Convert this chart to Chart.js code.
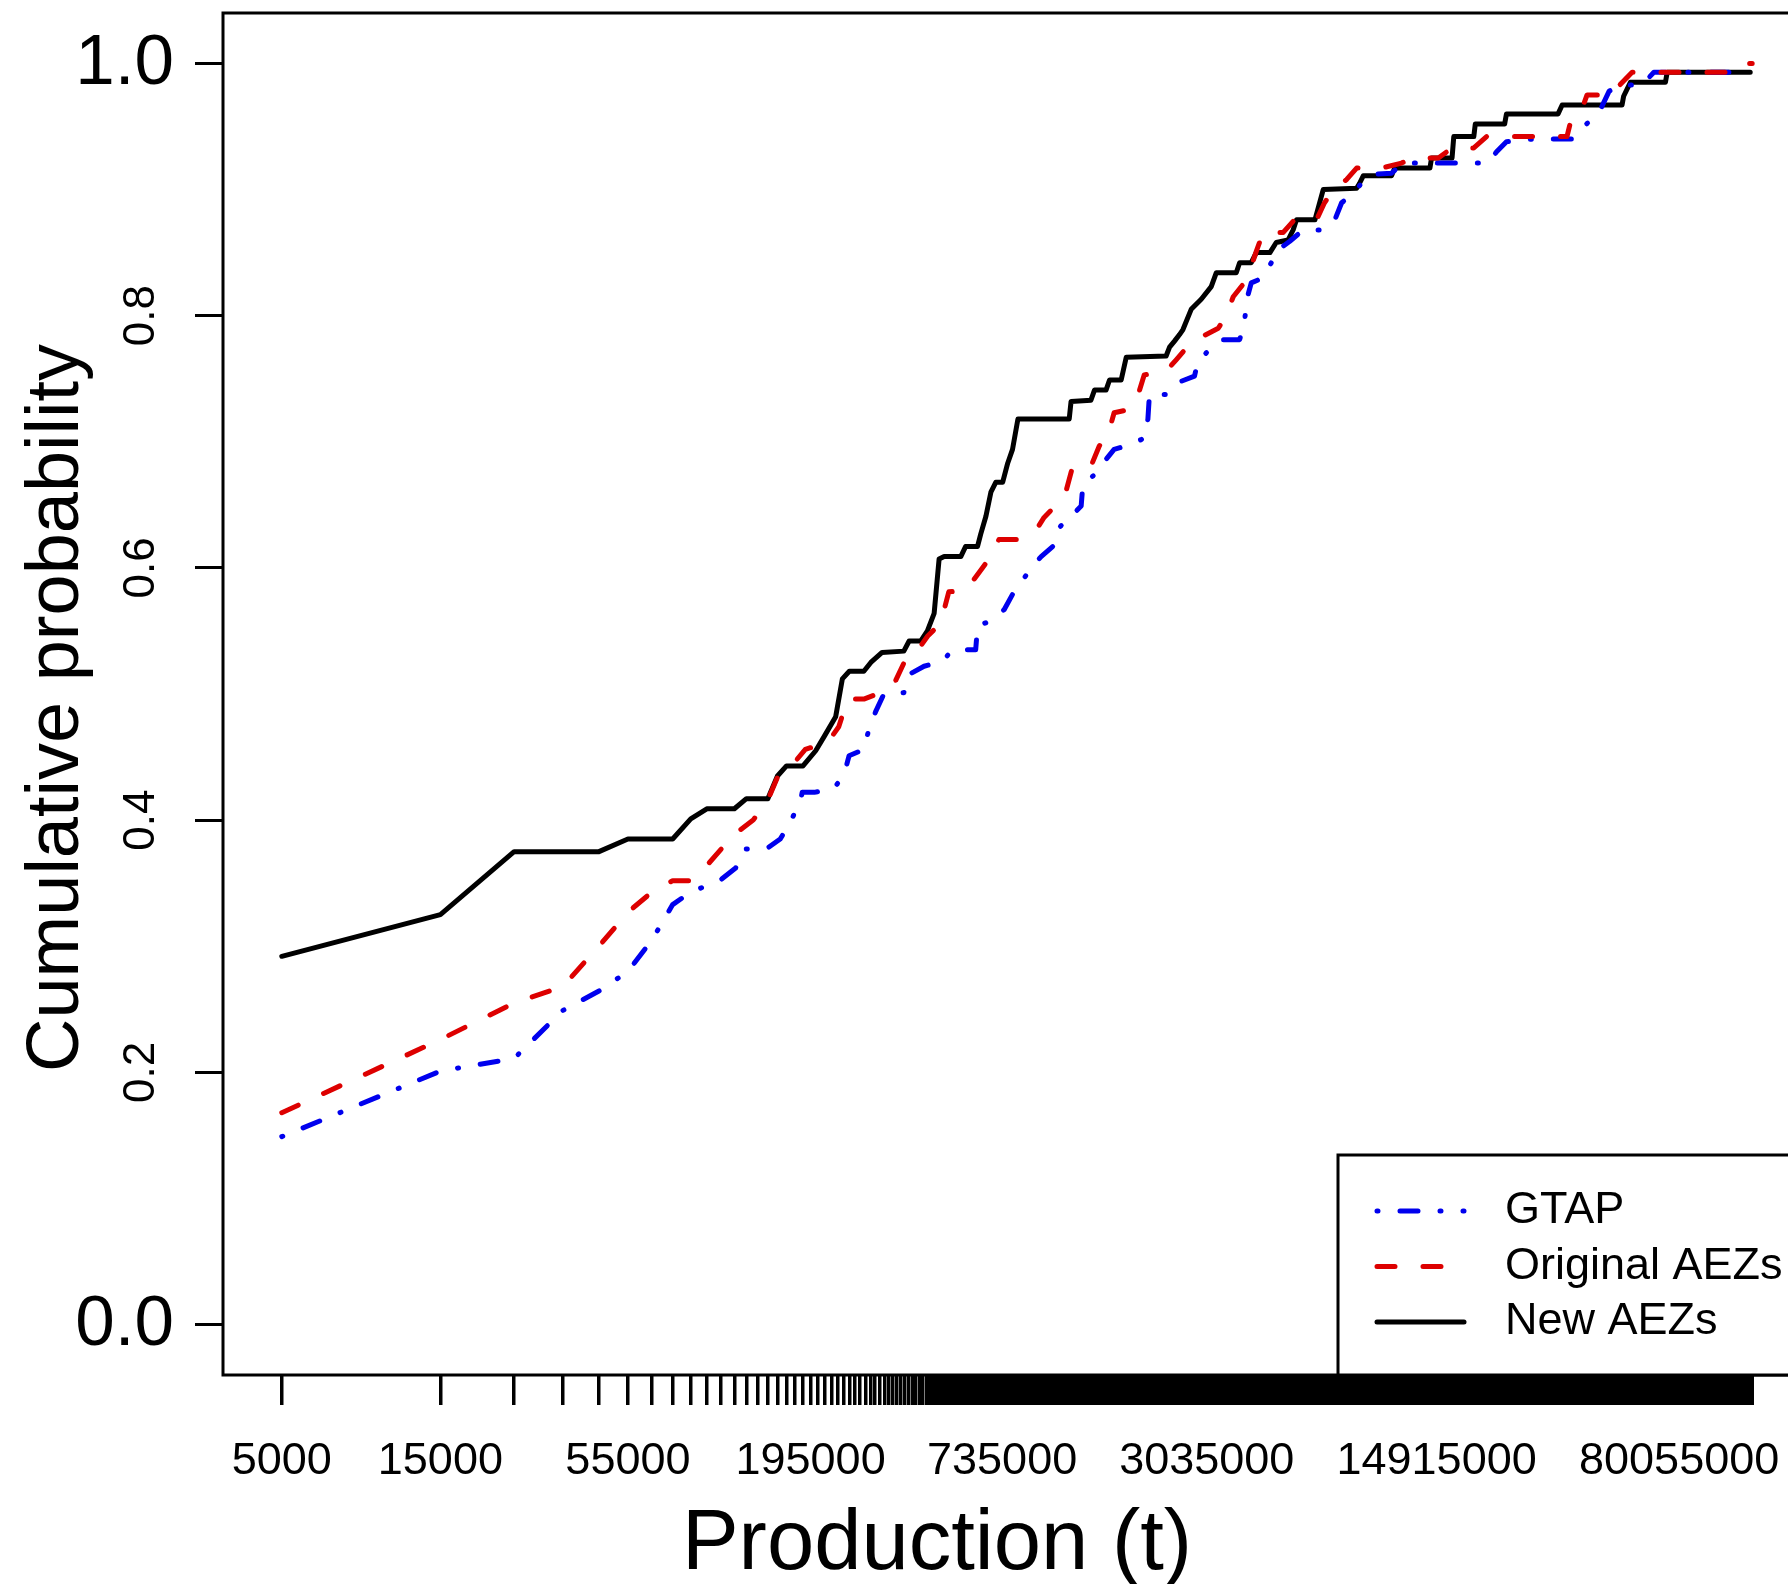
<!DOCTYPE html>
<html>
<head>
<meta charset="utf-8">
<script src="https://cdn.jsdelivr.net/npm/chart.js@4.4.1/dist/chart.umd.min.js"></script>
<style>
  html, body { margin: 0; padding: 0; overflow: hidden; background: #fff; }
  #wrap { width: 1812px; height: 1584px; }
</style>
</head>
<body>
<div id="wrap"><canvas id="c" width="1812" height="1584"></canvas></div>
<script>
// ---------------- data ----------------
const seriesNames = ['GTAP', 'Original AEZs', 'New AEZs'];

const gtapX = [5000,15000,25000,35000,45000,55000,65000,75000,85000,95000,105000,116000,124000,145000,158000,170000,182000,184000,200000,229000,246000,254500,282000,292000,306000,324000,372000,386000,428000,486000,521000,612000,620000,680000,746000,790000,837000,898000,963000,1044000,1091000,1185000,1271000,1286000,1410000,1477000,1597000,1797000,1971000,2018000,2040000,2290000,2485000,2787000,2854000,3093000,3355000,3810000,3942000,3990000,4130000,4479000,4745000,4910000,5394000,5920000,6720000,7370000,7725000,8280000,8875000,9620000,10920000,11840000,21300000,22600000,24200000,28900000,38100000,40800000,43800000,46700000,49300000,53100000,61900000,67200000,131000000];
const gtapY = [0.149,0.201,0.211,0.249,0.2645,0.280,0.305,0.333,0.343,0.348,0.353,0.362,0.377,0.378,0.385,0.399,0.416,0.422,0.422,0.425,0.436,0.451,0.456,0.472,0.486,0.500,0.501,0.5155,0.522,0.526,0.535,0.535,0.554,0.558,0.567,0.579,0.588,0.600,0.609,0.617,0.632,0.641,0.649,0.666,0.675,0.683,0.694,0.698,0.703,0.718,0.7375,0.7375,0.747,0.752,0.764,0.773,0.781,0.781,0.794,0.8115,0.826,0.830,0.842,0.851,0.859,0.868,0.868,0.876,0.8895,0.896,0.905,0.912,0.913,0.921,0.921,0.930,0.938,0.940,0.940,0.949,0.9556,0.965,0.978,0.983,0.983,0.993,0.993];

const origX = [5000,15000,25000,35000,45000,55000,65000,75000,85000,95000,105000,118000,131000,145000,155000,172000,188000,220000,237000,252000,282000,323000,352000,382000,418000,439000,480000,508000,571000,625000,671000,719000,820000,930000,983000,1091000,1145000,1200000,1362000,1440000,1532000,1597000,1773000,1900000,1967000,2290000,2455000,2687000,2920000,3286000,3470000,3645000,3907000,4130000,4276000,4488000,5155000,5570000,6490000,6860000,7300000,8000000,8570000,10190000,11700000,12540000,15100000,16600000,19300000,21100000,36800000,37600000,40300000,42300000,50300000,53100000,57800000,119700000,128300000,132800000];
const origY = [0.168,0.226,0.255,0.268,0.300,0.327,0.343,0.352,0.352,0.364,0.377,0.391,0.400,0.416,0.434,0.444,0.456,0.462,0.474,0.496,0.496,0.502,0.511,0.531,0.538,0.546,0.556,0.581,0.582,0.596,0.607,0.6225,0.6225,0.630,0.640,0.652,0.661,0.681,0.681,0.6965,0.706,0.723,0.7256,0.740,0.753,0.756,0.765,0.777,0.783,0.790,0.800,0.815,0.825,0.839,0.851,0.866,0.866,0.876,0.876,0.8895,0.900,0.908,0.917,0.917,0.921,0.925,0.925,0.933,0.933,0.942,0.942,0.952,0.960,0.975,0.975,0.983,0.993,0.993,1.0,1.0];

const newX = [5000,15000,25000,45000,55000,75000,85000,95000,115000,125000,145000,155000,165000,185000,202000,215000,232000,243000,255000,282000,296000,320000,372000,386000,418000,438000,459000,475000,492000,552000,571000,620000,634000,657000,680000,704000,738000,764000,790000,820000,1170000,1185000,1360000,1394000,1510000,1547000,1677000,1737000,2290000,2345000,2430000,2513000,2573000,2724000,2920000,3130000,3240000,3722000,3810000,4130000,4276000,4700000,4910000,5330000,5520000,5650000,6420000,6800000,8570000,8750000,8980000,10920000,11150000,14240000,14400000,16600000,16800000,19300000,19500000,23900000,24200000,34600000,35600000,53900000,54500000,57100000,72800000,73700000,131000000];
const newY = [0.292,0.325,0.375,0.375,0.385,0.385,0.401,0.409,0.409,0.417,0.417,0.435,0.443,0.443,0.455,0.467,0.482,0.512,0.518,0.518,0.525,0.533,0.534,0.542,0.542,0.550,0.564,0.607,0.609,0.609,0.617,0.617,0.627,0.641,0.660,0.668,0.668,0.683,0.694,0.718,0.718,0.732,0.733,0.741,0.741,0.749,0.749,0.767,0.768,0.775,0.780,0.785,0.789,0.805,0.813,0.823,0.834,0.834,0.842,0.842,0.850,0.850,0.858,0.860,0.868,0.876,0.876,0.900,0.901,0.905,0.911,0.911,0.917,0.917,0.925,0.925,0.942,0.942,0.952,0.952,0.960,0.960,0.967,0.967,0.974,0.985,0.985,0.993,0.993];

// axis ticks
const xTickLabels = ['5000','15000','55000','195000','735000','3035000','14915000','80055000'];
const xTickStart = 5000, xTickStep = 10000, xDataMax = 132800000;
const yTickValues = [0, 0.2, 0.4, 0.6, 0.8, 1.0];
const yTickLabels = ['0.0', '0.2', '0.4', '0.6', '0.8', '1.0'];

// ---------------- styling ----------------
const FONT = '"Liberation Sans", Arial, Helvetica, sans-serif';
const BLUE = '#0000ee', RED = '#dd0000', BLACK = '#000000';
const dashes = [[1, 22, 18, 22], [18, 28], []];
const colors = [BLUE, RED, BLACK];

const toPts = (xs, ys) => xs.map((x, i) => ({ x: x, y: ys[i] }));
const seriesData = [toPts(gtapX, gtapY), toPts(origX, origY), toPts(newX, newY)];

const lo = Math.log10(xTickStart), hi = Math.log10(xDataMax);
const pad = 0.04 * (hi - lo);
const xMin = Math.pow(10, lo - pad), xMax = Math.pow(10, hi + pad);

const labelSet = new Set(xTickLabels.map(Number));

const annot = {
  id: 'annot',
  afterDraw(chart) {
    const ctx = chart.ctx, a = chart.chartArea, y = chart.scales.y;
    ctx.save();
    // plot box
    ctx.strokeStyle = '#000';
    ctx.lineWidth = 3;
    ctx.strokeRect(a.left, a.top, a.right - a.left, a.bottom - a.top);
    // y tick labels
    ctx.fillStyle = '#000';
    yTickValues.forEach((v, i) => {
      const py = y.getPixelForValue(v);
      if (v === 0 || v === 1) {
        ctx.font = '71px ' + FONT;
        ctx.textAlign = 'right';
        ctx.textBaseline = 'middle';
        ctx.fillText(yTickLabels[i], a.left - 49, py + 1);
      } else {
        ctx.save();
        ctx.translate(a.left - 81, py);
        ctx.rotate(-Math.PI / 2);
        ctx.font = '44px ' + FONT;
        ctx.textAlign = 'center';
        ctx.textBaseline = 'middle';
        ctx.fillText(yTickLabels[i], 0, 0);
        ctx.restore();
      }
    });
    // y title
    ctx.save();
    ctx.translate(78, 708);
    ctx.rotate(-Math.PI / 2);
    ctx.font = '74px ' + FONT;
    ctx.textAlign = 'center';
    ctx.textBaseline = 'alphabetic';
    ctx.fillText('Cumulative probability', 0, 0);
    ctx.restore();
    // x title
    ctx.font = '85px ' + FONT;
    ctx.textAlign = 'center';
    ctx.textBaseline = 'alphabetic';
    ctx.fillText('Production (t)', 937, 1569);
    // legend
    const lx = 1338, ly = 1155;
    ctx.fillStyle = '#fff';
    ctx.fillRect(lx, ly, a.right - lx + 10, a.bottom - ly);
    ctx.lineWidth = 3;
    ctx.strokeStyle = '#000';
    ctx.strokeRect(lx, ly, a.right - lx + 10, a.bottom - ly);
    seriesNames.forEach((name, i) => {
      const yy = 1211 + i * 55.5;
      ctx.save();
      ctx.strokeStyle = colors[i];
      ctx.lineWidth = 5;
      ctx.lineCap = 'round';
      ctx.setLineDash(dashes[i]);
      ctx.beginPath();
      ctx.moveTo(1377, yy);
      ctx.lineTo(1464, yy);
      ctx.stroke();
      ctx.restore();
      ctx.fillStyle = '#000';
      ctx.font = '45px ' + FONT;
      ctx.textAlign = 'left';
      ctx.textBaseline = 'middle';
      ctx.fillText(name, 1505, yy);
    });
    ctx.restore();
  }
};

new Chart(document.getElementById('c'), {
  type: 'line',
  data: {
    datasets: seriesNames.map((name, i) => ({
      label: name,
      data: seriesData[i],
      borderColor: colors[i],
      borderWidth: 5,
      borderDash: dashes[i],
      borderCapStyle: 'round',
      borderJoinStyle: 'round',
      pointRadius: 0,
      tension: 0,
      fill: false,
      order: [1, 0, 2][i]
    }))
  },
  options: {
    responsive: false,
    devicePixelRatio: 1,
    animation: false,
    layout: { padding: { top: 13, right: 1, left: 0, bottom: 0 } },
    plugins: { legend: { display: false }, tooltip: { enabled: false } },
    scales: {
      x: {
        type: 'logarithmic',
        min: xMin,
        max: xMax,
        afterBuildTicks(scale) {
          const t = [];
          for (let v = xTickStart; v <= xDataMax; v += xTickStep) t.push({ value: v });
          scale.ticks = t;
        },
        afterFit(scale) { scale.height = 209; },
        border: { display: false },
        grid: { display: true, drawOnChartArea: false, drawTicks: true, tickLength: 30, color: '#000', lineWidth: 3.5 },
        ticks: {
          autoSkip: false,
          maxRotation: 0,
          minRotation: 0,
          padding: 30,
          color: '#000',
          font: { family: FONT, size: 45 },
          callback: (v) => labelSet.has(v) ? String(v) : ''
        }
      },
      y: {
        type: 'linear',
        min: -0.04,
        max: 1.04,
        afterBuildTicks(scale) { scale.ticks = yTickValues.map(v => ({ value: v })); },
        afterFit(scale) { scale.width = 223; },
        border: { display: false },
        grid: { display: true, drawOnChartArea: false, drawTicks: true, tickLength: 28, color: '#000', lineWidth: 3 },
        ticks: { display: false }
      }
    }
  },
  plugins: [annot]
});
</script>
</body>
</html>
